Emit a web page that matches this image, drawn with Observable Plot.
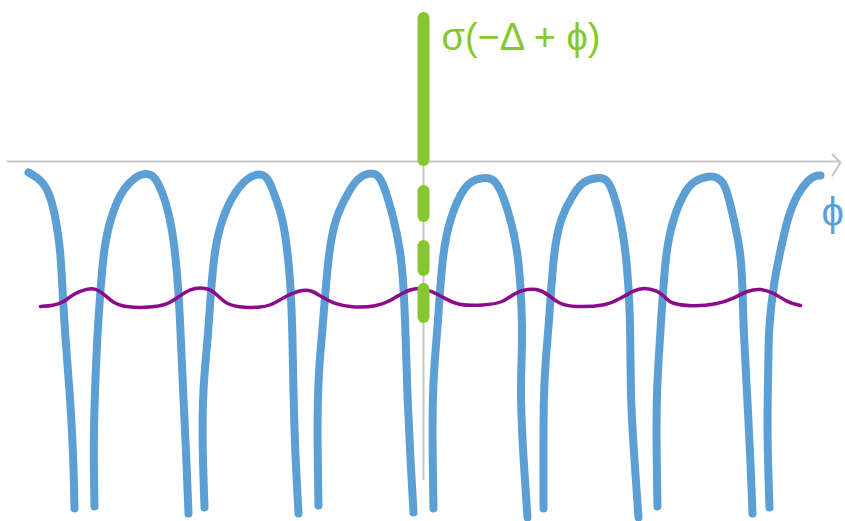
<!DOCTYPE html>
<html>
<head>
<meta charset="utf-8">
<script src="https://cdn.jsdelivr.net/npm/d3@7"></script>
<script src="https://cdn.jsdelivr.net/npm/@observablehq/plot@0.6"></script>
<style>
  html, body { margin: 0; padding: 0; background: #ffffff; }
  #chart svg { display: block; }
</style>
</head>
<body>
<div id="chart"></div>
<script>
// Sketch of σ(−Δ + φ) over φ: periodic lobes, a small ripple, and the marked φ = 0 line.
// x is φ, y is the value; the horizontal axis sits at y = 0.

// Blue strokes: one partial lobe at each end and six full lobes in between.
const blueStart = [[-3.95,-0.11],[-3.81,-0.19],[-3.73,-0.34],[-3.67,-0.61],[-3.63,-0.89],[-3.61,-1.29],[-3.58,-1.79],[-3.53,-2.39],[-3.50,-2.99],[-3.49,-3.47]];
const blueLobe1 = [[-3.29,-3.45],[-3.30,-2.89],[-3.29,-2.39],[-3.26,-1.69],[-3.23,-1.29],[-3.20,-0.89],[-3.13,-0.56],[-3.03,-0.32],[-2.95,-0.22],[-2.86,-0.14],[-2.78,-0.12],[-2.71,-0.13],[-2.65,-0.22],[-2.58,-0.39],[-2.52,-0.64],[-2.48,-0.94],[-2.45,-1.29],[-2.43,-1.69],[-2.40,-2.39],[-2.37,-2.99],[-2.35,-3.52]];
const blueLobe2 = [[-2.19,-3.46],[-2.21,-2.89],[-2.21,-2.39],[-2.18,-1.99],[-2.15,-1.69],[-2.10,-0.89],[-2.01,-0.56],[-1.90,-0.32],[-1.76,-0.16],[-1.65,-0.12],[-1.58,-0.14],[-1.53,-0.22],[-1.47,-0.39],[-1.41,-0.56],[-1.36,-0.89],[-1.33,-1.22],[-1.31,-1.69],[-1.30,-2.39],[-1.28,-2.99],[-1.25,-3.52]];
const blueLobe3 = [[-1.05,-3.44],[-1.06,-2.89],[-1.06,-2.39],[-1.04,-1.99],[-1.01,-1.69],[-0.95,-0.89],[-0.88,-0.56],[-0.76,-0.32],[-0.66,-0.16],[-0.53,-0.11],[-0.46,-0.13],[-0.40,-0.22],[-0.30,-0.56],[-0.23,-0.89],[-0.20,-1.22],[-0.18,-1.69],[-0.16,-2.39],[-0.13,-2.99],[-0.10,-3.51]];
const blueLobe4 = [[0.10,-3.47],[0.09,-2.89],[0.09,-2.39],[0.11,-1.99],[0.14,-1.69],[0.19,-0.89],[0.27,-0.56],[0.37,-0.32],[0.47,-0.19],[0.60,-0.16],[0.68,-0.17],[0.75,-0.22],[0.87,-0.56],[0.94,-0.89],[0.97,-1.22],[0.99,-1.69],[0.98,-1.99],[0.97,-2.39],[1.00,-2.99],[1.04,-3.56]];
const blueLobe5 = [[1.20,-3.47],[1.20,-2.89],[1.20,-2.39],[1.22,-1.99],[1.25,-1.69],[1.30,-0.89],[1.37,-0.56],[1.50,-0.32],[1.60,-0.19],[1.74,-0.16],[1.81,-0.17],[1.87,-0.22],[1.97,-0.56],[2.02,-0.89],[2.05,-1.22],[2.07,-1.69],[2.07,-2.39],[2.11,-2.99],[2.15,-3.56]];
const blueLobe6 = [[2.34,-3.45],[2.33,-2.89],[2.33,-2.39],[2.35,-1.99],[2.37,-1.69],[2.42,-0.89],[2.50,-0.56],[2.60,-0.32],[2.70,-0.19],[2.86,-0.14],[2.94,-0.16],[3.02,-0.22],[3.10,-0.56],[3.17,-0.89],[3.19,-1.22],[3.20,-1.69],[3.24,-2.39],[3.27,-2.99],[3.29,-3.52]];
const blueEnd = [[3.46,-3.46],[3.44,-2.89],[3.44,-2.39],[3.45,-1.99],[3.45,-1.69],[3.50,-1.22],[3.57,-0.89],[3.64,-0.56],[3.74,-0.32],[3.84,-0.19],[3.92,-0.14],[3.97,-0.14]];
const blueStrokes = [blueStart, blueLobe1, blueLobe2, blueLobe3, blueLobe4, blueLobe5, blueLobe6, blueEnd];

// Purple ripple around y ≈ −1.4
const ripple = [[-3.83,-1.45],[-3.70,-1.44],[-3.60,-1.41],[-3.50,-1.32],[-3.36,-1.27],[-3.28,-1.27],[-3.20,-1.32],[-3.10,-1.42],[-2.96,-1.46],[-2.73,-1.46],[-2.56,-1.43],[-2.46,-1.36],[-2.33,-1.27],[-2.20,-1.26],[-2.10,-1.29],[-2.00,-1.41],[-1.86,-1.46],[-1.63,-1.46],[-1.53,-1.44],[-1.40,-1.36],[-1.23,-1.28],[-1.11,-1.29],[-1.01,-1.36],[-0.90,-1.42],[-0.73,-1.46],[-0.46,-1.45],[-0.33,-1.39],[-0.20,-1.31],[-0.08,-1.26],[0.07,-1.29],[0.20,-1.36],[0.34,-1.44],[0.60,-1.44],[0.80,-1.41],[0.90,-1.32],[1.04,-1.27],[1.17,-1.28],[1.27,-1.35],[1.35,-1.42],[1.50,-1.46],[1.84,-1.44],[1.97,-1.37],[2.10,-1.29],[2.20,-1.26],[2.34,-1.29],[2.42,-1.36],[2.47,-1.42],[2.67,-1.45],[2.94,-1.43],[3.10,-1.37],[3.24,-1.29],[3.37,-1.27],[3.50,-1.31],[3.64,-1.41],[3.77,-1.44]];

// Green marker at φ = 0: a solid part above the axis, dashes below it
const markerPhi = 0;
const markerSolid = [1.43, 0.01];
const markerDashes = [[-0.30,-0.55],[-0.85,-1.09],[-1.28,-1.56]];

// Axes
const axisX = [-4.16, 4.17];
const axisArrow = [[4.09,0.07],[4.17,-0.01],[4.09,-0.14]];
const axisYBottom = -3.19;

// Labels
const labels = [
  {x: 0.18, y: 1.24, text: "σ(−Δ + ϕ)", color: "#86c730", size: 38},
  {x: 3.98, y: -0.52, text: "ϕ", color: "#5b9fd5", size: 40}
];

const blueRows = blueStrokes.flatMap((s, i) => s.map(([x, y]) => ({x, y, id: i})));
const rippleRows = ripple.map(([x, y]) => ({x, y}));
const arrowRows = axisArrow.map(([x, y]) => ({x, y}));
const dashRows = [{y1: markerSolid[0], y2: markerSolid[1]}, ...markerDashes.map(([y1, y2]) => ({y1, y2}))];

const chart = Plot.plot({
  width: 845,
  height: 521,
  margin: 0,
  x: {domain: [-4.23, 4.22], axis: null},
  y: {domain: [-3.60, 1.61], axis: null},
  style: {background: "#ffffff"},
  marks: [
    // gray axes
    Plot.ruleY([0], {x1: axisX[0], x2: axisX[1], stroke: "#c6c6c6", strokeWidth: 2}),
    Plot.line(arrowRows, {x: "x", y: "y", stroke: "#c6c6c6", strokeWidth: 2, strokeLinecap: "round", strokeLinejoin: "round"}),
    Plot.ruleX([markerPhi], {y1: 0, y2: axisYBottom, stroke: "#c6c6c6", strokeWidth: 2}),
    // blue lobes
    Plot.line(blueRows, {x: "x", y: "y", z: "id", stroke: "#5b9fd5", strokeWidth: 8, curve: "basis", strokeLinecap: "round", strokeLinejoin: "round"}),
    // purple ripple
    Plot.line(rippleRows, {x: "x", y: "y", stroke: "#8b0b8b", strokeWidth: 3.5, curve: "basis", strokeLinecap: "round"}),
    // green marker
    Plot.ruleX(dashRows, {x: markerPhi, y1: "y1", y2: "y2", stroke: "#86c730", strokeWidth: 12, strokeLinecap: "round"}),
    // labels
    Plot.text(labels, {x: "x", y: "y", text: "text", fill: "color", fontSize: "size", textAnchor: "start", lineAnchor: "middle", fontFamily: "Liberation Sans, DejaVu Sans"})
  ]
});

document.getElementById("chart").appendChild(chart);
</script>
</body>
</html>
